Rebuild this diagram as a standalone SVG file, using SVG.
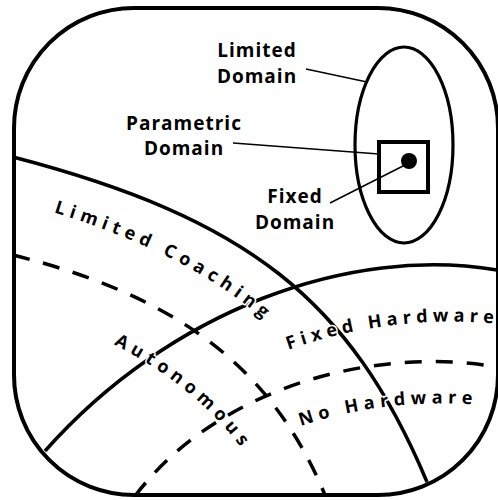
<svg xmlns="http://www.w3.org/2000/svg" xmlns:xlink="http://www.w3.org/1999/xlink" width="498" height="500" viewBox="0 0 498 500">
<style>
.solid{fill:none;stroke:#000;stroke-width:3.5}
.dash{fill:none;stroke:#000;stroke-width:3.5;stroke-dasharray:17 14}
.lbl{font-family:"Open Sans","DejaVu Sans",sans-serif;font-weight:700;font-size:19px;letter-spacing:1px;text-anchor:middle;fill:#000}
.arc{font-family:"Open Sans","DejaVu Sans",sans-serif;font-weight:700;font-size:18px;letter-spacing:5.4px;fill:#000;stroke:#fff;stroke-width:3;paint-order:stroke;stroke-linejoin:round}
.lead{stroke:#000;stroke-width:1.5;fill:none}
</style>
<defs>
<path id="pLC" d="M2.5,197.7 C213,253 319,333 388,498"/>
<path id="pAU" d="M1,303.5 C138.5,338 235,409 279,514"/>
<path id="pFH" d="M84,485.5 C190,365.6 363,300 528,328"/>
<path id="pNH" d="M165,519 C234.6,426.8 380,385.3 530,411"/>
</defs>
<rect x="0" y="0" width="498" height="500" fill="#fff"/>
<g id="frame">
<rect x="14" y="8" width="484" height="487" rx="120" ry="120" fill="none" stroke="#000" stroke-width="4"/>
</g>
<g id="regions">
<path class="solid" d="M13,157 C247,218 350,299 427,482"/>
<path class="solid" d="M45,451 C170,310 350,245 497,270"/>
<path class="dash" d="M13,255 C178.7,296.4 272.3,368.4 325,495"/>
<path class="dash" d="M135,496 C215,390 370,345 497,367"/>
</g>
<g id="region-labels">
<text class="arc"><textPath xlink:href="#pLC" startOffset="53">Limited Coaching</textPath></text>
<text class="arc"><textPath xlink:href="#pAU" startOffset="120">Autonomous</textPath></text>
<text class="arc" style="letter-spacing:5.1px"><textPath xlink:href="#pFH" startOffset="248">Fixed Hardware</textPath></text>
<text class="arc"><textPath xlink:href="#pNH" startOffset="167">No Hardware</textPath></text>
</g>
<g id="connectors">
<line class="lead" x1="306" y1="69" x2="367" y2="82"/>
<line class="lead" x1="233" y1="143" x2="379" y2="154"/>
<line class="lead" x1="330" y1="203" x2="405" y2="165"/>
</g>
<g id="limited-domain">
<ellipse cx="404" cy="145" rx="49" ry="98" fill="none" stroke="#000" stroke-width="3.2"/>
<text class="lbl" x="257" y="57">Limited</text>
<text class="lbl" x="257" y="83">Domain</text>
</g>
<g id="parametric-domain">
<rect x="379" y="142" width="49" height="50" fill="none" stroke="#000" stroke-width="4"/>
<text class="lbl" x="184" y="130">Parametric</text>
<text class="lbl" x="184" y="155">Domain</text>
</g>
<g id="fixed-domain">
<circle cx="409" cy="161" r="8" fill="#000"/>
<text class="lbl" x="295" y="203">Fixed</text>
<text class="lbl" x="295" y="229">Domain</text>
</g>
</svg>
